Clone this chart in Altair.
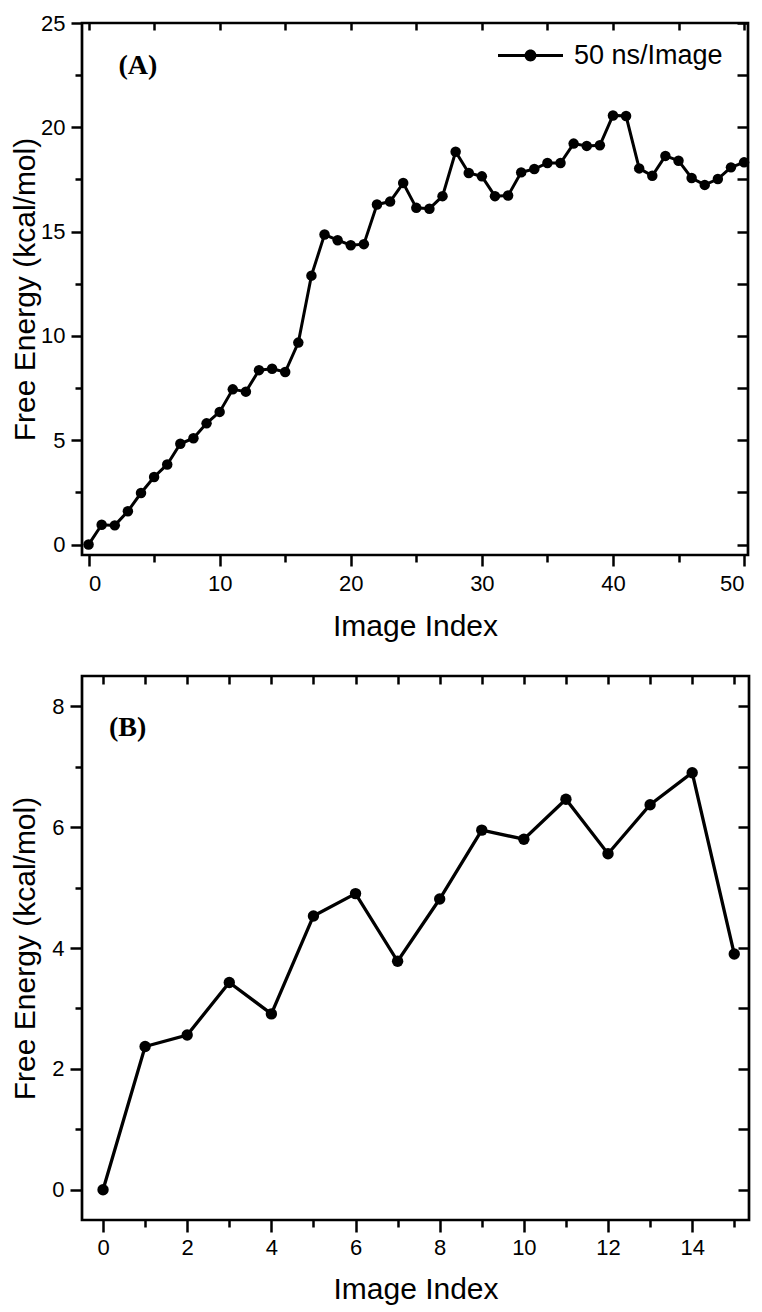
import altair as alt
import pandas as pd

# ---------------- data ----------------
a_index = list(range(51))
a_energy = [0.0, 0.95, 0.92, 1.6, 2.47, 3.24, 3.84, 4.83, 5.1, 5.81, 6.36,
            7.44, 7.33, 8.36, 8.43, 8.27, 9.68, 12.89, 14.86, 14.59, 14.35,
            14.4, 16.3, 16.44, 17.33, 16.14, 16.1, 16.7, 18.83, 17.81, 17.65,
            16.7, 16.73, 17.84, 18.0, 18.29, 18.29, 19.22, 19.11, 19.14, 20.57,
            20.54, 18.03, 17.68, 18.63, 18.4, 17.57, 17.24, 17.52, 18.08, 18.32]
a_series = "50 ns/Image"

b_index = list(range(16))
b_energy = [0.0, 2.37, 2.56, 3.43, 2.91, 4.53, 4.90, 3.78, 4.81, 5.95, 5.80,
            6.46, 5.56, 6.37, 6.90, 3.90]

# tick values
a_x_major = [0, 10, 20, 30, 40, 50]
a_x_minor = [5, 15, 25, 35, 45]
a_x_top = [0, 5, 10, 15, 20, 25, 30, 35, 40, 45, 50]
a_y_major = [0, 5, 10, 15, 20, 25]
a_y_minor = [2.5, 7.5, 12.5, 17.5, 22.5]
a_y_right = [0, 2.5, 5, 7.5, 10, 12.5, 15, 17.5, 20, 22.5, 25]

b_x_major = [0, 2, 4, 6, 8, 10, 12, 14]
b_x_minor = [1, 3, 5, 7, 9, 11, 13, 15]
b_x_top = list(range(16))
b_y_major = [0, 2, 4, 6, 8]
b_y_minor = [1, 3, 5, 7]
b_y_right = list(range(9))

df_a = pd.DataFrame({"idx": a_index, "fe": a_energy, "series": [a_series] * len(a_index)})
df_b = pd.DataFrame({"idx": b_index, "fe": b_energy})

FONT = "Liberation Sans"
X_TITLE = "Image Index"
Y_TITLE = "Free Energy (kcal/mol)"

LEGEND_PATH = ("M-3,-0.14H3V0.14H-3Z "
               "M0.55,0A0.55,0.55,0,1,1,-0.55,0A0.55,0.55,0,1,1,0.55,0Z")


def tick_axis(orient, values, size, offset=0):
    return alt.Axis(orient=orient, values=values, tickSize=size, offset=offset,
                    labels=False, domain=False, grid=False, title=None,
                    minExtent=0)


def panel(df, xdom, ydom, xmaj, xmin, xtop, ymaj, ymin, yright,
          w, h, label, dx, title_offset, pt_size, line_w, xtick, xlabpad,
          xtitlepad, ytick, ytitlepad, top_tick, right_tick, flush,
          legend=None):
    xs = alt.Scale(domain=xdom, nice=False, zero=False)
    ys = alt.Scale(domain=ydom, nice=False, zero=False)
    base = alt.Chart(df)
    line = base.mark_line(color="black", strokeWidth=line_w).encode(
        x=alt.X("idx:Q", scale=xs, title=X_TITLE,
                axis=alt.Axis(orient="bottom", values=xmaj, tickSize=xtick,
                              labelPadding=xlabpad, titlePadding=xtitlepad,
                              labelFlush=flush, format="d", minExtent=0)),
        y=alt.Y("fe:Q", scale=ys, title=Y_TITLE,
                axis=alt.Axis(orient="left", values=ymaj, tickSize=ytick,
                              labelPadding=6, titlePadding=ytitlepad,
                              format="d", minExtent=0)),
    )
    if legend is not None:
        pts = base.mark_point(filled=True, opacity=1, size=pt_size).encode(
            x=alt.X("idx:Q", scale=xs, axis=None),
            y=alt.Y("fe:Q", scale=ys, axis=None),
            color=alt.Color("series:N", scale=alt.Scale(range=["black"]),
                            legend=legend),
        )
    else:
        pts = base.mark_point(filled=True, opacity=1, size=pt_size,
                              color="black").encode(
            x=alt.X("idx:Q", scale=xs, axis=None),
            y=alt.Y("fe:Q", scale=ys, axis=None),
        )
    minor = base.mark_point(opacity=0).encode(
        x=alt.X("idx:Q", scale=xs, axis=tick_axis("bottom", xmin, 7)),
        y=alt.Y("fe:Q", scale=ys, axis=tick_axis("left", ymin, 7)),
    )
    # inward ticks on the top and right frame edges
    inner = base.mark_point(opacity=0).encode(
        x=alt.X("idx:Q", scale=xs, axis=tick_axis("top", xtop, top_tick, -top_tick)),
        y=alt.Y("fe:Q", scale=ys, axis=tick_axis("left", yright, right_tick, -w)),
    )
    title = alt.TitleParams(text=label, anchor="start", frame="group", orient="top",
                            font="Liberation Serif", fontSize=28, fontWeight="bold",
                            color="black", dx=dx, offset=title_offset,
                            baseline="alphabetic")
    return alt.layer(line, pts, minor, inner, title=title).resolve_axis(
        x="independent", y="independent").properties(width=w, height=h)


legend_a = alt.Legend(title=None, orient="none", legendX=435, legendY=19,
                      symbolType=LEGEND_PATH, symbolSize=469,
                      symbolFillColor="black", symbolStrokeWidth=0,
                      labelOffset=30, labelFont=FONT, labelFontSize=27,
                      labelColor="black", padding=0)

top = panel(df_a, [-0.5, 50.3], [-0.5, 25], a_x_major, a_x_minor, a_x_top,
            a_y_major, a_y_minor, a_y_right, 666, 532, "(A)", 36.5, -90, 110, 3,
            11, 7, 17, 11, 0, 7, 11, 10, legend=legend_a)
bottom = panel(df_b, [-0.5, 15.35], [-0.5, 8.5], b_x_major, b_x_minor, b_x_top,
               b_y_major, b_y_minor, b_y_right, 667, 544, "(B)", 27, -89, 130, 3.3,
               12, 5, 16, 12, 11.5, 8, 11, False)

chart = alt.concat(top, bottom, columns=1, spacing=30).properties(
    padding={"left": 0, "top": 2, "right": 0, "bottom": 0}
).configure_view(
    stroke="black", strokeWidth=2.7
).configure_axis(
    labelFont=FONT, labelFontSize=22, labelColor="black",
    titleFont=FONT, titleFontSize=30, titleFontWeight="normal", titleColor="black",
    tickColor="black", tickWidth=2.5, domain=False, grid=False, minExtent=0
)

chart.save("out.html", embed_options={"renderer": "svg", "actions": False})
